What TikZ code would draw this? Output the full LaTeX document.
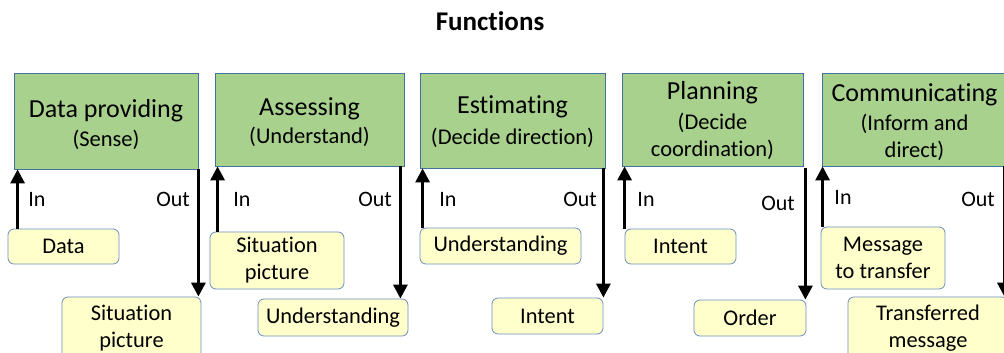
\documentclass[tikz,border=0pt]{standalone}
\usepackage{fontspec}
\setmainfont{Carlito}[Ligatures=NoCommon]
\usetikzlibrary{arrows.meta,calc}

\definecolor{boxgreen}{HTML}{A9D18E}
\definecolor{edgeblue}{HTML}{41719C}
\definecolor{noteedge}{HTML}{6C8EBF}
\definecolor{noteyellow}{HTML}{FFFFCC}

\newcommand\headsize{\fontsize{26}{29}\selectfont}
\newcommand\subsize{\fontsize{22.5}{27}\selectfont}
\newcommand\notesize{\fontsize{22.4}{27}\selectfont}

\begin{document}
\begin{tikzpicture}[x=1pt,y=-1pt,
  funcbox/.style={draw=edgeblue, fill=boxgreen, line width=0.8pt, inner sep=0pt},
  functext/.style={align=center, inner sep=0pt, font=\subsize},
  notebox/.style={draw=noteedge, fill=noteyellow, line width=0.8pt, rounded corners=6pt,
    inner sep=0pt, align=center, font=\notesize},
  iolabel/.style={inner sep=0pt, font=\fontsize{22}{26}\selectfont},
  flow/.style={line width=3pt, -{Triangle[width=14pt,length=14pt]}}
]
\useasboundingbox (0,0) rectangle (1004,353);

% heading
\node[font=\fontsize{27}{30}\selectfont\bfseries, inner sep=0pt] (head) at (490,21) {Functions};

% function boxes
\node[funcbox, minimum width=184pt, minimum height=96pt] (f1) at (106,121) {};
\node[funcbox, minimum width=189pt, minimum height=93pt] (f2) at (309.5,119.5) {};
\node[funcbox, minimum width=185pt, minimum height=95pt] (f3) at (512.5,120.5) {};
\node[funcbox, minimum width=181pt, minimum height=93pt] (f4) at (712.5,119.5) {};
\node[funcbox, minimum width=185pt, minimum height=93pt] (f5) at (914.5,119.5) {};

\node[functext] (t1) at (106,125) {{\headsize Data providing}\\[2pt](Sense)};
\node[functext] (t2) at (309.5,122.5) {{\headsize Assessing}\\[1pt](Understand)};
\node[functext] (t3) at (512.5,122) {{\headsize Estimating}\\[4pt](Decide direction)};
\node[functext] (t4) at (712.5,121) {{\headsize Planning}\\[3pt](Decide\\coordination)};
\node[functext] (t5) at (914.5,122) {{\headsize Communicating}\\[2pt](Inform and\\direct)};

% inputs and outputs
\node[notebox, minimum width=111pt, minimum height=35pt] (i1) at (63.5,246.5) {Data};
\node[notebox, minimum width=139pt, minimum height=63pt] (o1) at (131.5,328.5) {Situation\\picture};
\node[notebox, minimum width=134pt, minimum height=57pt] (i2) at (277,260.5) {Situation\\picture};
\node[notebox, minimum width=150pt, minimum height=37pt] (o2) at (333,317.5) {Understanding};
\node[notebox, minimum width=161pt, minimum height=36pt] (i3) at (500.5,246) {Understanding};
\node[notebox, minimum width=111pt, minimum height=36pt] (o3) at (547.5,316) {Intent};
\node[notebox, minimum width=111pt, minimum height=35pt] (i4) at (680.5,246.5) {Intent};
\node[notebox, minimum width=112pt, minimum height=36pt] (o4) at (750,318) {Order};
\node[notebox, minimum width=124pt, minimum height=62pt] (i5) at (883,258) {Message\\to transfer};
\node[notebox, minimum width=160pt, minimum height=63pt] (o5) at (928,328.5) {Transferred\\message};

% In / Out labels
\node[iolabel] (in1) at (37,199) {In};
\node[iolabel] (out1) at (173,199) {Out};
\node[iolabel] (in2) at (242,199) {In};
\node[iolabel] (out2) at (375,199) {Out};
\node[iolabel] (in3) at (448,199) {In};
\node[iolabel] (out3) at (580,199) {Out};
\node[iolabel] (in4) at (646,199) {In};
\node[iolabel] (out4) at (778,203) {Out};
\node[iolabel] (in5) at (843,197) {In};
\node[iolabel] (out5) at (978,199) {Out};

% input arrows
\draw[flow] ([xshift=4pt]f1.south west |- i1.north) -- ([xshift=4pt]f1.south west);
\draw[flow] ([xshift=3pt]f2.south west |- i2.north) -- ([xshift=3pt]f2.south west);
\draw[flow] ([xshift=3pt]f3.south west |- i3.north) -- ([xshift=3pt]f3.south west);
\draw[flow] ([xshift=3pt]f4.south west |- i4.north) -- ([xshift=3pt]f4.south west);
\draw[flow] ([xshift=1pt]f5.south west |- i5.north) -- ([xshift=1pt]f5.south west);

% output arrows
\draw[flow] (f1.south east) -- (f1.south east |- o1.north);
\draw[flow] ([xshift=-4pt]f2.south east) -- ([xshift=-4pt]f2.south east |- o2.north);
\draw[flow] ([xshift=-2pt]f3.south east) -- ([xshift=-2pt]f3.south east |- o3.north);
\draw[flow] ([xshift=2pt,yshift=-2pt]f4.south east) -- ([xshift=2pt]f4.south east |- o4.north);
\draw[flow] ([xshift=-3pt]f5.south east) -- ([xshift=-3pt]f5.south east |- o5.north);
\end{tikzpicture}
\end{document}
